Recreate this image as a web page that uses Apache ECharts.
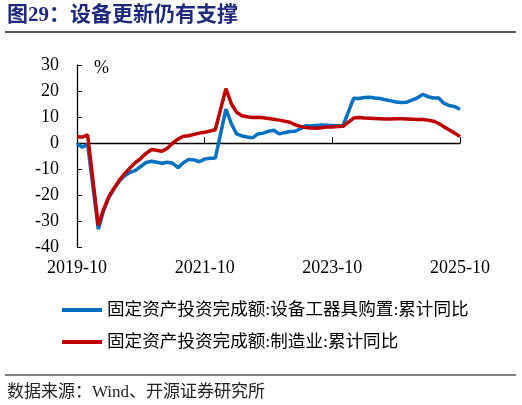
<!DOCTYPE html>
<html>
<head>
<meta charset="utf-8">
<script src="https://cdn.jsdelivr.net/npm/echarts@6/dist/echarts.min.js"></script>
<style>
  html, body { margin: 0; padding: 0; background: #fff; }
  #main { width: 522px; height: 405px; }
</style>
</head>
<body>
<div id="main"></div>
<script>
var myChart = echarts.init(document.getElementById('main'));

// 2019-10 .. 2025-10, monthly; January has no cumulative figure (null)
var months = [];
for (var y = 2019, m = 10; y < 2025 || (y === 2025 && m <= 10); ) {
    months.push(y + '-' + (m < 10 ? '0' + m : m));
    m++;
    if (m > 12) { m = 1; y++; }
}

// 固定资产投资完成额:设备工器具购置:累计同比
var equipment = [
    -0.3, -1.6, -0.5,
    null, -33.2, -26, -21, -17.5, -14.5, -12.5, -11.3, -10.5, -9, -7.5, -7,
    null, -7.8, -7.4, -7.8, -9.5, -7.6, -6.3, -6.5, -7.2, -6.2, -5.9, -5.8,
    null, 13, 7.5, 3.5, 2.7, 2.3, 2.0, 3.5, 3.8, 4.5, 4.9, 3.5,
    null, 4.4, 4.5, 5.5, 6.6, 6.5, 6.7, 6.9, 6.8, 6.7, 6.6, 6.6,
    null, 17.2, 17.1, 17.5, 17.6, 17.3, 17.1, 16.6, 16.2, 15.8, 15.6, 15.7,
    null, 17.4, 18.7, 17.8, 17.3, 17.3, 15.2, 14.4, 14.0, 13.0
];

// 固定资产投资完成额:制造业:累计同比
var manufacturing = [
    2.4, 2.3, 3.1,
    null, -31.7, -25.5, -20.5, -17.3, -14.2, -11.7, -9.5, -7.5, -5.9, -4, -2.5,
    null, -3.2, -2, 0, 1.5, 2.6, 2.8, 3.3, 3.8, 4.1, 4.6, 5.1,
    null, 20.9, 15.2, 11.8, 10.5, 10.1, 9.8, 9.9, 9.7, 9.4, 9.1, 8.8,
    null, 8.0, 7.0, 6.4, 6.0, 5.8, 5.7, 5.9, 6.2, 6.2, 6.3, 6.4,
    null, 9.6, 9.8, 9.6, 9.5, 9.4, 9.3, 9.2, 9.2, 9.3, 9.3, 9.2,
    null, 9.0, 9.0, 8.8, 8.4, 7.5, 6.2, 5.0, 3.8, 2.5
];

var seriesNames = [
    '固定资产投资完成额:设备工器具购置:累计同比',
    '固定资产投资完成额:制造业:累计同比'
];

var serif = '"Liberation Serif", "Times New Roman", serif';
var cjk = '"Liberation Serif", "Noto Sans CJK SC", sans-serif';

let option = {
    animation: false,
    grid: { left: 77, right: 62, top: 65, bottom: 158 },
    xAxis: [
        {
            type: 'category',
            data: months,
            boundaryGap: false,
            axisLine: { onZero: true, lineStyle: { color: '#000', width: 1.3 } },
            axisTick: { inside: true, length: 6, interval: 23, lineStyle: { color: '#000' } },
            axisLabel: { show: false },
            splitLine: { show: false }
        },
        {
            type: 'category',
            data: months,
            boundaryGap: false,
            position: 'bottom',
            axisLine: { show: false, onZero: false },
            axisTick: { show: false },
            axisLabel: {
                interval: 23,
                margin: 12,
                color: '#000',
                fontFamily: serif,
                fontSize: 18
            }
        }
    ],
    yAxis: {
        type: 'value',
        min: -40,
        max: 30,
        interval: 10,
        axisLine: { show: true, lineStyle: { color: '#000', width: 1.3 } },
        axisTick: { show: true, inside: true, length: 5, lineStyle: { color: '#000' } },
        axisLabel: { margin: 18, color: '#000', fontFamily: serif, fontSize: 18 },
        splitLine: { show: false }
    },
    legend: {
        orient: 'vertical',
        left: 57,
        top: 295,
        itemWidth: 40,
        itemHeight: 4,
        itemGap: 12,
        icon: 'rect',
        textStyle: { fontFamily: cjk, fontSize: 17.6, lineHeight: 20, color: '#000' },
        data: seriesNames
    },
    graphic: [
        {
            type: 'text', left: 7, top: 5,
            style: { text: '图29：设备更新仍有支撑', fontFamily: cjk, fontSize: 21, fontWeight: 'bold', fill: '#1f2a7c' }
        },
        {
            type: 'line',
            shape: { x1: 5, y1: 32, x2: 516, y2: 32 },
            style: { stroke: '#222', lineWidth: 1.5 }
        },
        {
            type: 'text', left: 94, top: 59,
            style: { text: '%', fontFamily: serif, fontSize: 18, fill: '#000' }
        },
        {
            type: 'line',
            shape: { x1: 5, y1: 375, x2: 516, y2: 375 },
            style: { stroke: '#555', lineWidth: 1.5 }
        },
        {
            type: 'text', left: 7, top: 384,
            style: { text: '数据来源：Wind、开源证券研究所', fontFamily: cjk, fontSize: 17, fill: '#222' }
        }
    ],
    series: [
        {
            name: seriesNames[0],
            type: 'line',
            data: equipment,
            connectNulls: true,
            showSymbol: false,
            lineStyle: { color: '#0070c0', width: 3.5 },
            itemStyle: { color: '#0070c0' }
        },
        {
            name: seriesNames[1],
            type: 'line',
            data: manufacturing,
            connectNulls: true,
            showSymbol: false,
            lineStyle: { color: '#c00000', width: 3.5 },
            itemStyle: { color: '#c00000' }
        }
    ]
};

myChart.setOption(option);
</script>
</body>
</html>
